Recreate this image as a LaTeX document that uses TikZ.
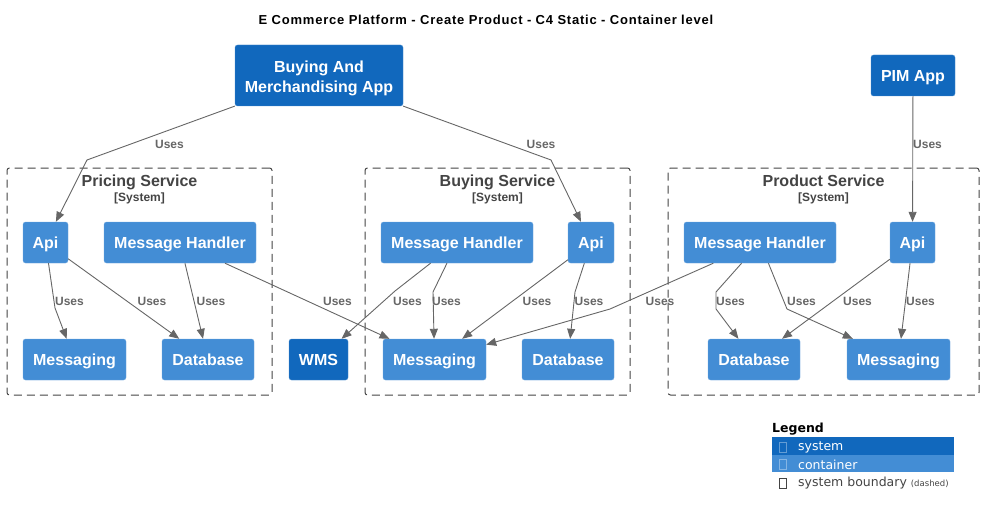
\documentclass[tikz,border=0pt]{standalone}
\usepackage{fontspec}
\setmainfont{Liberation Sans}
\newfontfamily\legendfont{DejaVu Sans}
\usetikzlibrary{arrows.meta}

\definecolor{systemblue}{HTML}{1168BD}
\definecolor{containerblue}{HTML}{438DD5}
\definecolor{linegray}{HTML}{666666}
\definecolor{boundarygray}{HTML}{444444}

\tikzset{
	systembox/.style={fill=systemblue, draw=systemblue!75!white, rounded corners=2.5pt, text=white, inner sep=0pt,
		font=\bfseries\fontsize{16}{20}\selectfont, minimum height=41pt, text height=12.4pt, text depth=0pt},
	containerbox/.style={systembox, fill=containerblue, draw=containerblue!75!white},
	boundary/.style={draw=boundarygray, dash pattern=on 8pt off 5pt, rounded corners=2.5pt, line width=1pt, inner sep=0pt},
	boundarytitle/.style={text=boundarygray, font=\bfseries\fontsize{16}{18}\selectfont, inner sep=0pt, text height=12pt, text depth=3.5pt},
	boundarytag/.style={text=boundarygray, font=\bfseries\fontsize{12}{14}\selectfont, inner sep=0pt},
	uses/.style={text=linegray, font=\bfseries\fontsize{12}{14}\selectfont, inner sep=0pt},
	rel/.style={draw=linegray, line width=0.9pt, -{Triangle[length=10pt,width=8pt]}},
	legendrow/.style={minimum width=182pt, minimum height=17.5pt, inner sep=0pt},
	legendtext/.style={anchor=west, inner sep=0pt, font=\legendfont\fontsize{12.5}{14}\selectfont}
}

\begin{document}
\begin{tikzpicture}[x=1pt, y=-1pt]
	\useasboundingbox (0,0) rectangle (984,516);

	\node[font=\bfseries\fontsize{13}{15}\selectfont\addfontfeatures{LetterSpace=6}] (title) at (486,20) {E Commerce Platform - Create Product - C4 Static - Container level};

	\foreach \name/\label/\x/\w in {pricing/Pricing Service/139.5/265pt, buying/Buying Service/497.5/265pt, product/Product Service/823.5/311pt}
	{
		\node[boundary, minimum width=\w, minimum height=227pt] (\name_boundary) at (\x,281.5) {};
		\node[boundarytitle] (\name_title) at (\x,182.5) {\label};
		\node[boundarytag] (\name_tag) at (\x,198.5) {[System]};
	}

	\node[systembox, minimum width=168pt, minimum height=61pt, text height=, text depth=, align=center] (bam) at (319,75.5) {Buying And\rule{0pt}{17pt}\\Merchandising App};
	\node[systembox, minimum width=84pt] (pim) at (913,75.5) {PIM App};
	\node[systembox, minimum width=59pt] (wms) at (318.5,359.5) {WMS};

	\node[containerbox, minimum width=45pt] (pricing_api) at (45.5,242.5) {Api};
	\node[containerbox, minimum width=152pt] (pricing_mh) at (180,242.5) {Message Handler};
	\node[containerbox, minimum width=103pt] (pricing_msg) at (74.5,359.5) {Messaging};
	\node[containerbox, minimum width=92pt] (pricing_db) at (208,359.5) {Database};

	\node[containerbox, minimum width=152pt] (buying_mh) at (457,242.5) {Message Handler};
	\node[containerbox, minimum width=46pt] (buying_api) at (591,242.5) {Api};
	\node[containerbox, minimum width=103pt] (buying_msg) at (434.5,359.5) {Messaging};
	\node[containerbox, minimum width=92pt] (buying_db) at (568,359.5) {Database};

	\node[containerbox, minimum width=152pt] (product_mh) at (760,242.5) {Message Handler};
	\node[containerbox, minimum width=45pt] (product_api) at (912.5,242.5) {Api};
	\node[containerbox, minimum width=92pt] (product_db) at (754,359.5) {Database};
	\node[containerbox, minimum width=103pt] (product_msg) at (898.5,359.5) {Messaging};

	\draw[rel] (bam) -- (87,160) -- (pricing_api);
	\draw[rel] (bam) -- (551,160) -- (buying_api);
	\draw[rel] (pim) -- (product_api);
	\draw[rel] (pricing_api) -- (55,308) -- (pricing_msg);
	\draw[rel] (pricing_api) -- (pricing_db);
	\draw[rel] (pricing_mh) -- (pricing_db);
	\draw[rel] (pricing_mh) -- (buying_msg);
	\draw[rel] (buying_mh) -- (395,291) -- (wms);
	\draw[rel] (buying_mh) -- (433,292) -- (buying_msg);
	\draw[rel] (buying_api) -- (buying_msg);
	\draw[rel] (buying_api) -- (575,292) -- (buying_db);
	\draw[rel] (product_mh) -- (610,309) -- (buying_msg);
	\draw[rel] (product_mh) -- (716,292) -- (716,309) -- (product_db);
	\draw[rel] (product_mh) -- (787,309) -- (product_msg);
	\draw[rel] (product_api) -- (product_db);
	\draw[rel] (product_api) -- (product_msg);

	\foreach \x/\y [count=\i] in {169.5/144.5, 541/144.5, 927.5/144.5, 69.5/301.5, 152/301.5, 211/301.5, 337.5/301.5, 407.5/301.5, 446.5/301.5, 537/301.5, 589/301.5, 660/301.5, 730.5/301.5, 801.5/301.5, 857.5/301.5, 920.5/301.5}
	{
		\node[uses] (uses_\i) at (\x,\y) {Uses};
	}

	\node[anchor=west, inner sep=0pt, font=\legendfont\bfseries\fontsize{12.5}{14}\selectfont] (legend_title) at (772,429) {Legend};
	\node[legendrow, fill=systemblue] (legend_system) at (863,446) {};
	\node[legendrow, fill=containerblue] (legend_container) at (863,463.5) {};
	\draw[white!35!systemblue] (779.5,442) rectangle (786,452.5);
	\draw[white!35!containerblue] (779.5,459) rectangle (786,469.5);
	\draw[boundarygray] (779.5,478) rectangle (786,488.5);
	\node[legendtext, text=white] (legend_system_text) at (798,447) {system};
	\node[legendtext, text=white] (legend_container_text) at (798,464.5) {container};
	\node[legendtext, text=boundarygray] (legend_boundary_text) at (798,483) {system boundary {\fontsize{8.5}{10}\selectfont(dashed)}};
\end{tikzpicture}
\end{document}
